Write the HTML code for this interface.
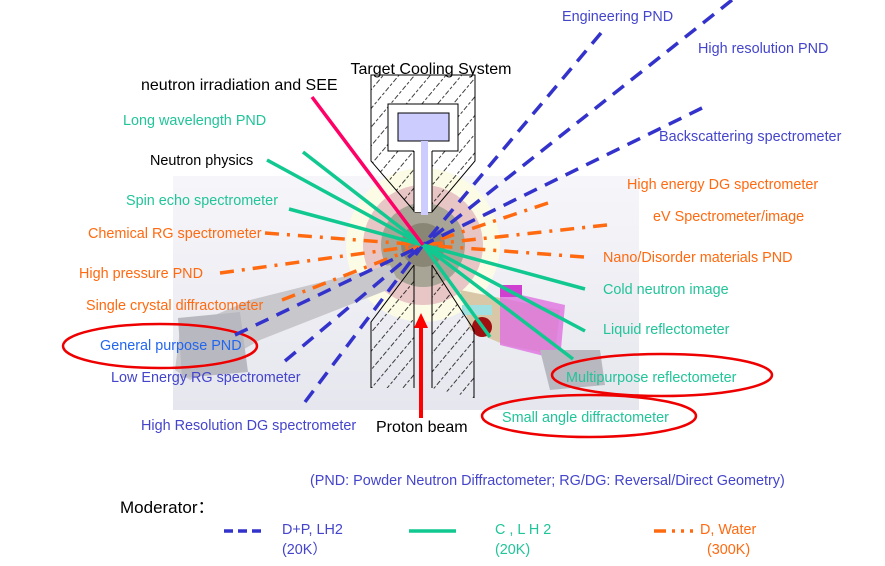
<!DOCTYPE html>
<html><head><meta charset="utf-8"><style>
html,body{margin:0;padding:0;background:#fff;}
svg{display:block;}
text{font-family:"Liberation Sans","Noto Sans CJK SC",sans-serif;}
</style></head><body>
<svg width="885" height="566" viewBox="0 0 885 566" xmlns="http://www.w3.org/2000/svg">
<defs>
<linearGradient id="bg" x1="0" y1="0" x2="0" y2="1">
<stop offset="0" stop-color="#f6f6fa"/><stop offset="1" stop-color="#e6e6ee"/></linearGradient>
<pattern id="hatch" width="12" height="12" patternUnits="userSpaceOnUse" patternTransform="rotate(-50)">
<line x1="0" y1="6" x2="12" y2="6" stroke="#000" stroke-width="0.8" stroke-dasharray="3,2"/></pattern>
</defs>
<rect x="173" y="176" width="466" height="234" fill="url(#bg)"/>
<circle cx="423" cy="245" r="77" fill="#fbfbe6"/>
<circle cx="423" cy="245" r="60" fill="#e8c6c6"/>
<circle cx="423" cy="245" r="42" fill="#a8a496"/>
<circle cx="423" cy="245" r="22" fill="#8a8676"/>
<polygon points="180,330 250,300 390,265 400,285 260,340 190,380 175,370" fill="#c8c8cc"/>
<polygon points="178,318 240,312 248,372 182,378" fill="#b8b8c0"/>
<polygon points="460,290 510,300 560,310 555,355 505,345 470,330" fill="#d8c8a8"/>
<polygon points="500,290 565,305 560,360 500,345" fill="#e070e0" opacity="0.8"/>
<rect x="500" y="285" width="22" height="12" fill="#d040d0"/>
<polygon points="540,350 600,350 605,385 550,390" fill="#b8b8c0"/>
<circle cx="482" cy="327" r="10" fill="#a01010"/>
<rect x="462" y="305" width="30" height="10" fill="#a0e0e0"/>
<path d="M371,75 L475,75 L475,161 L432,212 L415,212 L371,161 Z" fill="url(#hatch)" stroke="#000" stroke-width="1"/>
<rect x="388" y="104" width="70" height="47" fill="#fff" stroke="#000"/>
<rect x="414" y="150" width="18" height="62" fill="#fff"/>
<path d="M414,151 L414,212 M432,151 L432,212" stroke="#000"/>
<rect x="398" y="113" width="51" height="28" fill="#ccccff" stroke="#000"/>
<rect x="421" y="141" width="7" height="74" fill="#ccccff"/>
<path d="M414,265 L371,322 L371,388 L414,388 Z" fill="url(#hatch)"/>
<path d="M432,265 L474,330 L474,398 L432,388 Z" fill="url(#hatch)"/>
<path d="M414,265 L371,322 L371,388 M414,265 L414,388 M432,265 L432,388 M432,265 L474,330 L474,398" stroke="#000" fill="none"/>
<ellipse cx="160" cy="346" rx="97" ry="22" fill="none" stroke="#e00" stroke-width="2.5"/>
<ellipse cx="662" cy="375" rx="110" ry="21" fill="none" stroke="#e00" stroke-width="2.5"/>
<ellipse cx="589" cy="416" rx="107" ry="21" fill="none" stroke="#e00" stroke-width="2.5"/>
<line x1="421" y1="418" x2="421" y2="326" stroke="#f00" stroke-width="4"/>
<polygon points="414,328 428,328 421,313" fill="#f00"/>
<g stroke="#ff6a10" stroke-width="3.5" stroke-dasharray="14,8,3,8" fill="none">
<line x1="265" y1="233" x2="423" y2="245"/>
<line x1="220" y1="273" x2="423" y2="245"/>
<line x1="282" y1="300" x2="423" y2="245"/>
<line x1="548" y1="203" x2="423" y2="245"/>
<line x1="607" y1="225" x2="423" y2="245"/>
<line x1="584" y1="257" x2="423" y2="245"/>
</g>
<g stroke="#3333cc" stroke-width="3.5" stroke-dasharray="14,9" fill="none">
<line x1="601" y1="33" x2="423" y2="245"/>
<line x1="732" y1="0" x2="423" y2="245"/>
<line x1="702" y1="108" x2="423" y2="245"/>
<line x1="235" y1="335" x2="423" y2="245"/>
<line x1="285" y1="361" x2="423" y2="245"/>
<line x1="305" y1="402" x2="423" y2="245"/>
</g>
<g stroke="#10c890" stroke-width="3.5" fill="none">
<line x1="303" y1="152" x2="423" y2="245"/>
<line x1="267" y1="160" x2="423" y2="245"/>
<line x1="289" y1="209" x2="423" y2="245"/>
<line x1="585" y1="289" x2="423" y2="245"/>
<line x1="585" y1="331" x2="423" y2="245"/>
<line x1="573" y1="359" x2="423" y2="245"/>
<line x1="490" y1="337" x2="423" y2="245"/>
</g>
<line x1="312" y1="97" x2="423" y2="245" stroke="#ff0066" stroke-width="3.5"/>
<g font-size="14.4">
<text x="431" y="74" font-size="16" text-anchor="middle" fill="#000">Target Cooling System</text>
<text x="141" y="90" font-size="16" fill="#000">neutron irradiation and SEE</text>
<text x="123" y="125" fill="#22c49a">Long wavelength PND</text>
<text x="150" y="165" fill="#000">Neutron physics</text>
<text x="126" y="205" fill="#22c49a">Spin echo spectrometer</text>
<text x="88" y="238" fill="#ff6a10">Chemical RG spectrometer</text>
<text x="79" y="278" fill="#ff6a10">High pressure PND</text>
<text x="86" y="310" fill="#ff6a10">Single crystal diffractometer</text>
<text x="100" y="350" fill="#2266ee">General purpose PND</text>
<text x="111" y="382" fill="#4444cc">Low Energy  RG spectrometer</text>
<text x="141" y="430" fill="#4444cc">High Resolution DG spectrometer</text>
<text x="376" y="432" font-size="16" fill="#000">Proton beam</text>
<text x="562" y="21" fill="#4444cc">Engineering PND</text>
<text x="698" y="53" fill="#4444cc">High  resolution PND</text>
<text x="659" y="141" fill="#4444cc">Backscattering spectrometer</text>
<text x="627" y="189" fill="#ff6a10">High energy DG spectrometer</text>
<text x="653" y="221" fill="#ff6a10">eV Spectrometer/image</text>
<text x="603" y="262" fill="#ff6a10">Nano/Disorder materials PND</text>
<text x="603" y="294" fill="#22c49a">Cold neutron image</text>
<text x="603" y="334" fill="#22c49a">Liquid reflectometer</text>
<text x="566" y="382" fill="#22c49a">Multipurpose reflectometer</text>
<text x="502" y="422" fill="#22c49a">Small angle diffractometer</text>
<text x="310" y="485" fill="#4444cc">(PND: Powder Neutron Diffractometer; RG/DG: Reversal/Direct Geometry)</text>
<text x="120" y="513" font-size="17" fill="#000">Moderator：</text>
<text x="282" y="534" fill="#4444cc">D+P, LH2</text>
<text x="282" y="554" fill="#4444cc">(20K）</text>
<text x="495" y="534" fill="#22c49a">C , L H 2</text>
<text x="495" y="554" fill="#22c49a">(20K)</text>
<text x="700" y="534" fill="#ff6a10">D, Water</text>
<text x="707" y="554" fill="#ff6a10">(300K)</text>
</g>
<line x1="224" y1="531" x2="262" y2="531" stroke="#3333cc" stroke-width="3.5" stroke-dasharray="9,5"/>
<line x1="310" y1="531" x2="356" y2="531" stroke="#10c890" stroke-width="3.5" transform="translate(0,0)" opacity="0"/>
<line x1="409" y1="531" x2="456" y2="531" stroke="#10c890" stroke-width="3.5"/>
<line x1="654" y1="531" x2="695" y2="531" stroke="#ff6a10" stroke-width="3.5" stroke-dasharray="12,6,3,6,3,6,3,6"/>
</svg>
</body></html>
